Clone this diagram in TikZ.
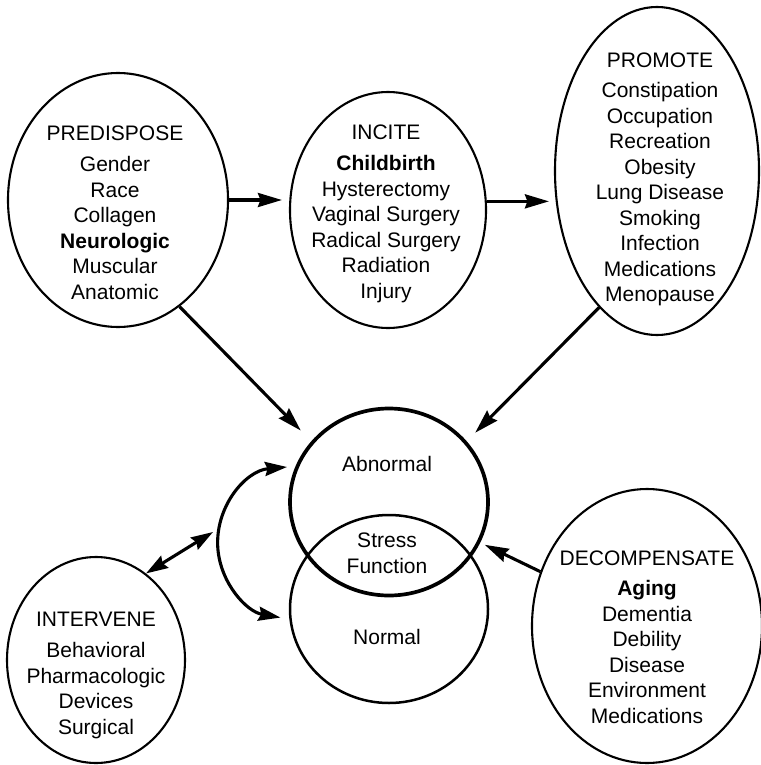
\documentclass[tikz,border=0pt]{standalone}
\usepackage{fontspec}
\setmainfont{Liberation Sans}
\usetikzlibrary{shapes.geometric,arrows.meta}
\begin{document}
\begin{tikzpicture}[x=1pt,y=-1pt,
  ell/.style={draw, ellipse, line width=2.1pt, inner sep=0pt},
  arr/.style={line width=3.1pt, -{Stealth[length=24pt,width=14pt,inset=2.5pt]}},
  dbl/.style={line width=3.1pt, {Stealth[length=22pt,width=14pt,inset=2.5pt]}-{Stealth[length=22pt,width=14pt,inset=2.5pt]}},
  txt/.style={align=center, inner sep=0pt, anchor=north, font=\fontsize{21}{25.5}\selectfont}]
\useasboundingbox (0,0) rectangle (760,765);
% ellipses
\node[ell, minimum width=220pt, minimum height=254pt] (pre) at (118,200) {};
\node[ell, minimum width=196pt, minimum height=236pt] (inc) at (388,210) {};
\node[ell, minimum width=204pt, minimum height=328pt] (pro) at (657,171) {};
\node[ell, line width=3.7pt, minimum width=198pt, minimum height=187pt] (abn) at (389,502) {};
\node[ell, line width=2.5pt, minimum width=198pt, minimum height=188pt] (nor) at (389,609) {};
\node[ell, minimum width=178pt, minimum height=206pt] (int) at (96,660) {};
\node[ell, minimum width=230pt, minimum height=274pt] (dec) at (647,626) {};
% texts
\node[txt] (pret) at (115,126) {PREDISPOSE\\[5.5pt] Gender\\ Race\\ Collagen\\ \textbf{Neurologic}\\ Muscular\\ Anatomic};
\node[txt] (inct) at (386,125) {INCITE\\[5.5pt] \textbf{Childbirth}\\ Hysterectomy\\ Vaginal Surgery\\ Radical Surgery\\ Radiation\\ Injury};
\node[txt] (prot) at (660,53) {PROMOTE\\[4.5pt] Constipation\\ Occupation\\ Recreation\\ Obesity\\ Lung Disease\\ Smoking\\ Infection\\ Medications\\ Menopause};
\node[txt] (intt) at (96,612) {INTERVENE\\[5.5pt] Behavioral\\ Pharmacologic\\ Devices\\ Surgical};
\node[txt] (dect) at (647,551) {DECOMPENSATE\\[4.5pt] \textbf{Aging}\\ Dementia\\ Debility\\ Disease\\ Environment\\ Medications};
\node[txt] (abnt) at (387,456) {Abnormal};
\node[txt] (sft) at (387,533) {Stress\\ Function};
\node[txt] (nort) at (387,629) {Normal};
% connectors
\draw[arr, shorten >=7pt] (pre.east) -- (pre.east -| inc.west);
\draw[arr, shorten >=5pt] (inc.5) -- (inc.5 -| pro.west);
\draw[arr, shorten >=15pt] (pre.-60) -- (abn.142);
\draw[arr, shorten >=12pt] (pro.-113) -- (abn.38);
\draw[arr, shorten >=5pt] (dec.153) -- (abn.-24);
\coordinate (iv) at (213,532);
\draw[dbl] (int.60) -- (iv);
\coordinate (ca) at (287,467);
\draw[dbl] (ca) arc[start angle=95, end angle=260, radius=76pt];
\end{tikzpicture}
\end{document}
